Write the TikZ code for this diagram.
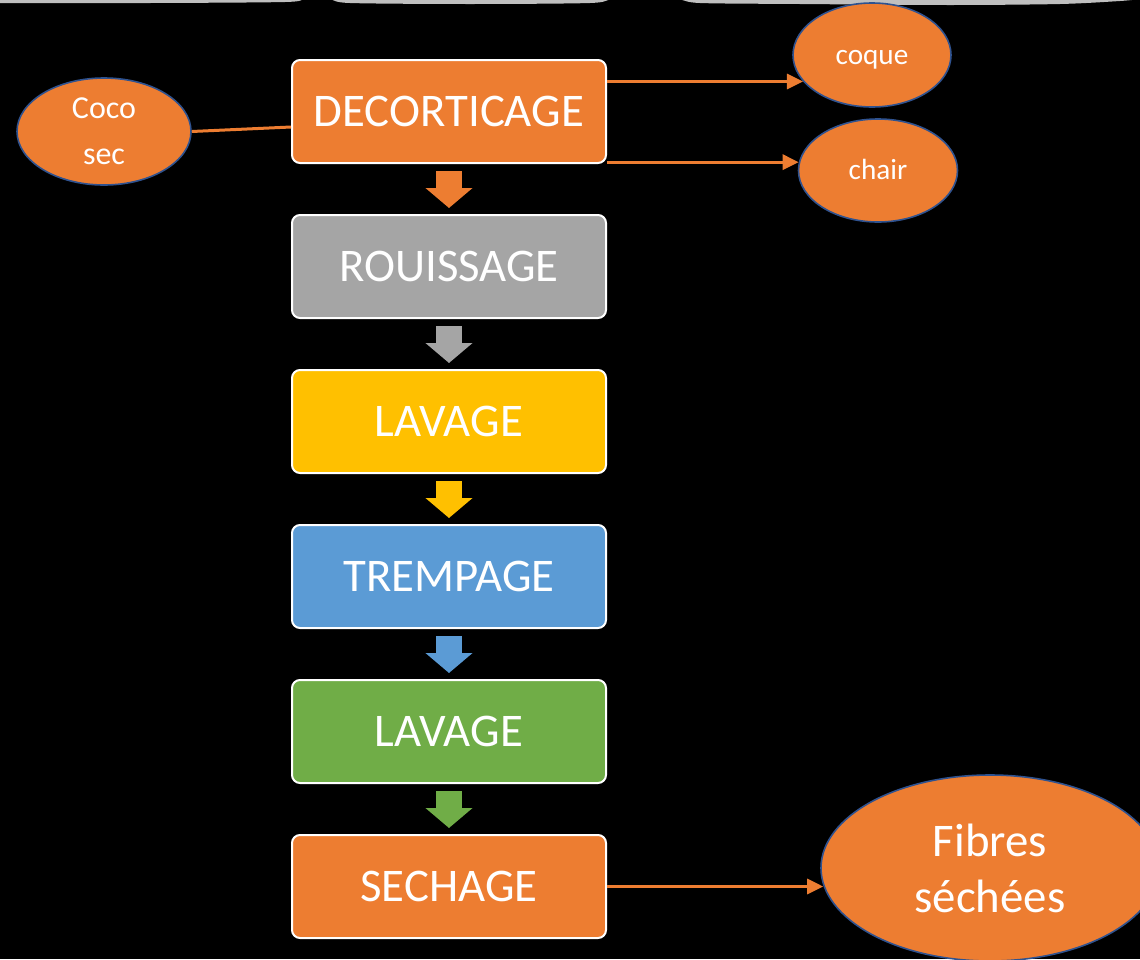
\documentclass[tikz,border=0pt]{standalone}
\usepackage{fontspec}
\setmainfont{Carlito}
\usetikzlibrary{shapes,arrows.meta,positioning}

\definecolor{orangeA}{HTML}{ED7D31}
\definecolor{grisA}{HTML}{A5A5A5}
\definecolor{jauneA}{HTML}{FFC000}
\definecolor{bleuA}{HTML}{5B9BD5}
\definecolor{vertA}{HTML}{70AD47}
\definecolor{bordbleu}{HTML}{2F528F}
\definecolor{grisbord}{HTML}{BFBFBF}

\begin{document}
\begin{tikzpicture}[x=0.5pt,y=-0.5pt,node distance=77.5pt]
\tikzstyle{etape} = [rectangle, draw=white, line width=1pt, rounded corners=4pt, minimum width=157pt, minimum height=51.5pt, inner sep=0pt, text=white, font=\fontsize{23.4}{28}\selectfont]
\tikzstyle{produit} = [ellipse, draw=bordbleu, line width=0.8pt, fill=orangeA, inner sep=0pt, text=white, align=center]
\tikzstyle{petit} = [font=\fontsize{14.6}{17}\selectfont, text height=9pt, text depth=0pt]
\tikzstyle{fleche} = [line width=13pt, -{Triangle[length=10pt,width=23pt]}, shorten <=3.5pt, shorten >=3pt]
\tikzstyle{sortie} = [draw=orangeA, line width=1.5pt, -{Triangle[length=8pt,width=7.5pt]}]
\tikzstyle{lien} = [draw=orangeA, line width=1.5pt]

% fond noir et bord gris ondule
\fill[black] (0,0) rectangle (1140,959);
\useasboundingbox (0,0) rectangle (1140,959);
\fill[grisbord] plot[smooth] coordinates {(0,3) (150,3) (285,2) (305,-1) (330,-1) (350,3) (470,4) (590,3) (615,-1) (675,-1) (700,3) (800,4) (950,5) (1060,4) (1120,1) (1140,-1)} -- (1140,-6) -- (0,-6) -- cycle;

% etapes
\node[etape, fill=orangeA] at (449,111.5) (dec){DECORTICAGE};
\node[etape, fill=grisA][below of=dec](rou){ROUISSAGE};
\node[etape, fill=jauneA][below of=rou](lav1){LAVAGE};
\node[etape, fill=bleuA][below of=lav1](tre){TREMPAGE};
\node[etape, fill=vertA][below of=tre](lav2){LAVAGE};
\node[etape, fill=orangeA][below of=lav2](sec){SECHAGE};

% produits
\node[produit, minimum width=87pt, minimum height=53.5pt, font=\fontsize{16}{23}\selectfont, text depth=0pt] at (104,131.5) (coco){Coco\\sec};
\node[produit, petit, minimum width=79pt, minimum height=52pt] at (872,55) (coque){coque};
\node[produit, petit, minimum width=79.5pt, minimum height=51.5pt] at (878,170.5) (chair){chair};
\node[produit, minimum width=169pt, minimum height=93pt, font=\fontsize{23.4}{28}\selectfont] at (990,868) (fib){Fibres\\séchées};

\path (dec.south) edge[fleche, draw=orangeA] (rou.north)
      (rou.south) edge[fleche, draw=grisA] (lav1.north)
      (lav1.south) edge[fleche, draw=jauneA] (tre.north)
      (tre.south) edge[fleche, draw=bleuA] (lav2.north)
      (lav2.south) edge[fleche, draw=vertA] (sec.north)
      (coco.east) edge[lien] ([yshift=-7.75pt]dec.west)
      (dec.east |- coque.201) edge[sortie] (coque.201)
      (dec.east |- chair.174) edge[sortie] (chair.174)
      (sec.east) edge[sortie] (sec.east -| fib.186);
\end{tikzpicture}
\end{document}
